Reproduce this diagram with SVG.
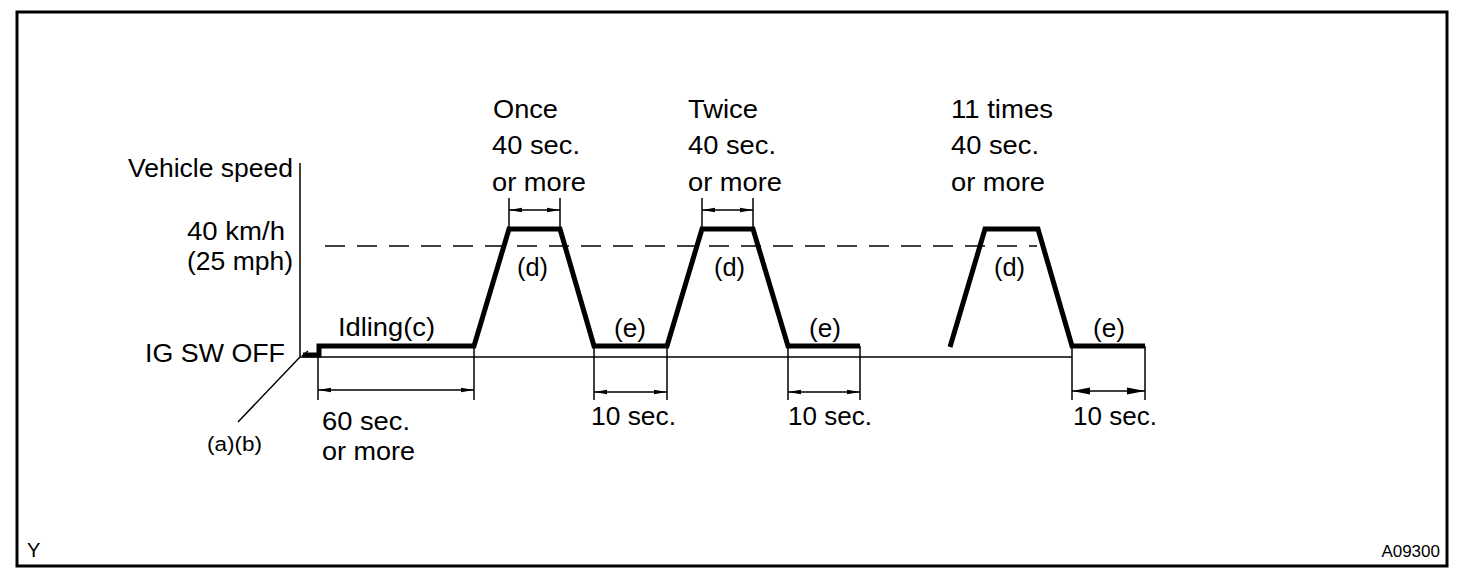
<svg xmlns="http://www.w3.org/2000/svg" width="1472" height="584" viewBox="0 0 1472 584">
<style>
text{font-family:"Liberation Sans",Arial,sans-serif;font-size:25px;fill:#000}
.sm{font-size:20px}
.xs{font-size:17px}
.thin{stroke:#000;stroke-width:1.5;fill:none}
.thick{stroke:#000;stroke-width:5;fill:none;stroke-linejoin:miter}
.dash{stroke:#000;stroke-width:1.3;fill:none;stroke-dasharray:20 12}
.dim{stroke:#000;stroke-width:1.5;fill:none;marker-start:url(#arr);marker-end:url(#arr)}
.dimL{stroke:#000;stroke-width:1.5;fill:none;marker-start:url(#arrL);marker-end:url(#arrL)}
</style>
<defs>
<marker id="arr" markerUnits="userSpaceOnUse" viewBox="0 0 13 6" refX="13" refY="3" markerWidth="13" markerHeight="6" orient="auto-start-reverse">
<path d="M0,0.8 L13,3 L0,5.2 z" fill="#000"/>
</marker>
<marker id="arrL" markerUnits="userSpaceOnUse" viewBox="0 0 18 8" refX="18" refY="4" markerWidth="18" markerHeight="8" orient="auto-start-reverse">
<path d="M0,0.5 L18,4 L0,7.5 z" fill="#000"/>
</marker>
</defs>
<rect width="1472" height="584" fill="#fff"/>
<rect id="frame" x="17" y="12" width="1430" height="554" fill="none" stroke="#000" stroke-width="3"/>

<g id="axes">
<line class="thin" x1="300" y1="163" x2="300" y2="357"/>
<line class="thin" x1="300" y1="357" x2="1072" y2="357"/>
<line class="thin" x1="238" y1="422" x2="300" y2="357" stroke-width="2"/>
<line class="thin" x1="302" y1="356" x2="308" y2="351"/>
<line class="dash" x1="325" y1="246" x2="1037" y2="246"/>
</g>

<g id="profile">
<polyline class="thick" points="303,355 319,355 319,346 474,346 509,229 560,229 594,346 667,346 702,229 753,229 788,346 860,346"/>
<polyline class="thick" points="950,347 985,229 1038,229 1072,346 1145,346"/>
</g>

<g id="dimensions">
<line class="thin" x1="318" y1="350" x2="318" y2="400"/>
<line class="thin" x1="474" y1="346" x2="474" y2="400"/>
<line class="dim" x1="318" y1="390" x2="474" y2="390"/>

<line class="thin" x1="509" y1="198" x2="509" y2="229"/>
<line class="thin" x1="560" y1="198" x2="560" y2="229"/>
<line class="dim" x1="509" y1="210" x2="560" y2="210"/>

<line class="thin" x1="702" y1="198" x2="702" y2="229"/>
<line class="thin" x1="753" y1="198" x2="753" y2="229"/>
<line class="dim" x1="702" y1="210" x2="753" y2="210"/>

<line class="thin" x1="594" y1="346" x2="594" y2="400"/>
<line class="thin" x1="667" y1="346" x2="667" y2="400"/>
<line class="dim" x1="594" y1="392" x2="667" y2="392"/>

<line class="thin" x1="788" y1="346" x2="788" y2="400"/>
<line class="thin" x1="860" y1="346" x2="860" y2="400"/>
<line class="dim" x1="788" y1="392" x2="860" y2="392"/>

<line class="thin" x1="1072" y1="346" x2="1072" y2="400"/>
<line class="thin" x1="1145" y1="346" x2="1145" y2="400"/>
<line class="dimL" x1="1072" y1="391" x2="1145" y2="391"/>
</g>

<g id="labels">
<text x="128" y="177" textLength="165" lengthAdjust="spacingAndGlyphs">Vehicle speed</text>
<text x="187" y="240" textLength="98" lengthAdjust="spacingAndGlyphs">40 km/h</text>
<text x="187" y="270" textLength="106" lengthAdjust="spacingAndGlyphs">(25 mph)</text>
<text x="145" y="362" textLength="140" lengthAdjust="spacingAndGlyphs">IG SW OFF</text>
<text x="338" y="336" textLength="97" lengthAdjust="spacingAndGlyphs">Idling(c)</text>
<text class="sm" x="207" y="451" textLength="55" lengthAdjust="spacingAndGlyphs">(a)(b)</text>
<text x="322" y="430" textLength="88" lengthAdjust="spacingAndGlyphs">60 sec.</text>
<text x="322" y="460" textLength="93" lengthAdjust="spacingAndGlyphs">or more</text>

<text x="493" y="118" textLength="65" lengthAdjust="spacingAndGlyphs">Once</text>
<text x="492" y="154" textLength="88" lengthAdjust="spacingAndGlyphs">40 sec.</text>
<text x="492" y="191" textLength="94" lengthAdjust="spacingAndGlyphs">or more</text>

<text x="688" y="118" textLength="70" lengthAdjust="spacingAndGlyphs">Twice</text>
<text x="688" y="154" textLength="88" lengthAdjust="spacingAndGlyphs">40 sec.</text>
<text x="688" y="191" textLength="94" lengthAdjust="spacingAndGlyphs">or more</text>

<text x="951" y="118" textLength="102" lengthAdjust="spacingAndGlyphs">11 times</text>
<text x="951" y="154" textLength="88" lengthAdjust="spacingAndGlyphs">40 sec.</text>
<text x="951" y="191" textLength="94" lengthAdjust="spacingAndGlyphs">or more</text>

<text x="517" y="276" textLength="31" lengthAdjust="spacingAndGlyphs">(d)</text>
<text x="714" y="276" textLength="31" lengthAdjust="spacingAndGlyphs">(d)</text>
<text x="994" y="276" textLength="31" lengthAdjust="spacingAndGlyphs">(d)</text>

<text x="614" y="337" textLength="32" lengthAdjust="spacingAndGlyphs">(e)</text>
<text x="809" y="337" textLength="32" lengthAdjust="spacingAndGlyphs">(e)</text>
<text x="1093" y="337" textLength="32" lengthAdjust="spacingAndGlyphs">(e)</text>

<text x="591" y="425" textLength="85" lengthAdjust="spacingAndGlyphs">10 sec.</text>
<text x="788" y="425" textLength="84" lengthAdjust="spacingAndGlyphs">10 sec.</text>
<text x="1073" y="425" textLength="84" lengthAdjust="spacingAndGlyphs">10 sec.</text>

<text class="sm" x="27" y="557">Y</text>
<text class="xs" x="1440" y="557" text-anchor="end">A09300</text>
</g>
</svg>
